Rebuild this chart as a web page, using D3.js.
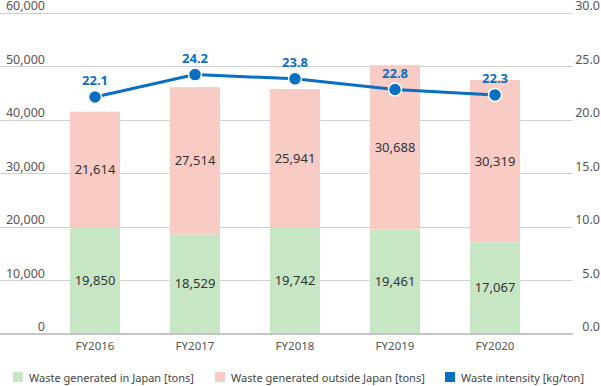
<!DOCTYPE html>
<html>
<head>
<meta charset="utf-8">
<script src="https://cdn.jsdelivr.net/npm/d3@7"></script>
<style>
  body { margin: 0; background: #fff; }
  text { font-family: "Noto Sans", "Open Sans", sans-serif; }
</style>
</head>
<body>
<div id="chart"></div>
<script>
// chart data
var years = ["FY2016", "FY2017", "FY2018", "FY2019", "FY2020"];
var japanWaste = [19850, 18529, 19742, 19461, 17067];
var outsideWaste = [21614, 27514, 25941, 30688, 30319];
var intensity = [22.1, 24.2, 23.8, 22.8, 22.3];
var leftTicks = [0, 10000, 20000, 30000, 40000, 50000, 60000];
var rightTicks = [0, 5, 10, 15, 20, 25, 30];
var legendLabels = ["Waste generated in Japan [tons]", "Waste generated outside Japan [tons]", "Waste intensity [kg/ton]"];

var svgWidth = 601;
var svgHeight = 386;

var green = "#c7e6c4";
var pink = "#f8cbc5";
var blue = "#0a6fc2";

var svg = d3.select("#chart")
  .append("svg")
  .attr("width", svgWidth)
  .attr("height", svgHeight);

// scales
var xScale = d3.scaleBand()
  .domain(years)
  .range([45, 545])
  .paddingInner(0.5)
  .paddingOuter(0.25);

var yLeft = d3.scaleLinear().domain([0, 60000]).range([333.5, 12.5]);
var yRight = d3.scaleLinear().domain([0, 30]).range([333.5, 12.5]);

// gridlines
svg.append("g")
  .selectAll("line")
  .data(leftTicks)
  .enter()
  .append("line")
  .attr("x1", 0)
  .attr("x2", 573)
  .attr("y1", d => Math.round(yLeft(d)) + 0.5)
  .attr("y2", d => Math.round(yLeft(d)) + 0.5)
  .attr("stroke", "#d0d0d0")
  .attr("stroke-width", 1);

// left tick labels
var fmt = d3.format(",");
svg.append("g")
  .selectAll("text")
  .data(leftTicks)
  .enter()
  .append("text")
  .attr("x", 45)
  .attr("y", d => yLeft(d) - 2.5)
  .attr("text-anchor", "end")
  .attr("font-size", 12.5)
  .attr("fill", "#555")
  .text(d => fmt(d));

// right tick labels
svg.append("g")
  .selectAll("text")
  .data(rightTicks)
  .enter()
  .append("text")
  .attr("x", 600)
  .attr("y", d => yRight(d) - 2.5)
  .attr("text-anchor", "end")
  .attr("font-size", 12.5)
  .attr("fill", "#555")
  .text(d => d3.format(".1f")(d));

// stacked bars
var rows = years.map((y, i) => ({ year: y, japan: japanWaste[i], outside: outsideWaste[i], intensity: intensity[i] }));

var bars = svg.append("g");
bars.selectAll(".japan")
  .data(rows)
  .enter()
  .append("rect")
  .attr("x", d => xScale(d.year))
  .attr("width", xScale.bandwidth())
  .attr("y", d => yLeft(d.japan))
  .attr("height", d => yLeft(0) - yLeft(d.japan))
  .attr("fill", green);

bars.selectAll(".outside")
  .data(rows)
  .enter()
  .append("rect")
  .attr("x", d => xScale(d.year))
  .attr("width", xScale.bandwidth())
  .attr("y", d => yLeft(d.japan + d.outside))
  .attr("height", d => yLeft(d.japan) - yLeft(d.japan + d.outside))
  .attr("fill", pink);

// baseline
svg.append("line")
  .attr("x1", 0)
  .attr("x2", 573)
  .attr("y1", yLeft(0) + 0.5)
  .attr("y2", yLeft(0) + 0.5)
  .attr("stroke", "#c4c4c4")
  .attr("stroke-width", 2);

// value labels in bars
var labels = svg.append("g")
  .attr("font-size", 13)
  .attr("fill", "#333")
  .attr("text-anchor", "middle");

labels.selectAll(".jl")
  .data(rows)
  .enter()
  .append("text")
  .attr("x", d => xScale(d.year) + xScale.bandwidth() / 2)
  .attr("y", d => (yLeft(0) + yLeft(d.japan)) / 2)
  .attr("dy", "0.35em")
  .text(d => fmt(d.japan));

labels.selectAll(".ol")
  .data(rows)
  .enter()
  .append("text")
  .attr("x", d => xScale(d.year) + xScale.bandwidth() / 2)
  .attr("y", d => (yLeft(d.japan) + yLeft(d.japan + d.outside)) / 2)
  .attr("dy", "0.35em")
  .text(d => fmt(d.outside));

// x axis labels
svg.append("g")
  .selectAll("text")
  .data(years)
  .enter()
  .append("text")
  .attr("x", d => xScale(d) + xScale.bandwidth() / 2)
  .attr("y", 350)
  .attr("text-anchor", "middle")
  .attr("font-size", 11.5)
  .attr("fill", "#555")
  .text(d => d);

// intensity line
var line = d3.line()
  .x(d => xScale(d.year) + xScale.bandwidth() / 2)
  .y(d => yRight(d.intensity));

svg.append("path")
  .datum(rows)
  .attr("d", line)
  .attr("fill", "none")
  .attr("stroke", blue)
  .attr("stroke-width", 3);

svg.append("g")
  .selectAll("circle")
  .data(rows)
  .enter()
  .append("circle")
  .attr("cx", d => xScale(d.year) + xScale.bandwidth() / 2)
  .attr("cy", d => yRight(d.intensity))
  .attr("r", 6.5)
  .attr("fill", blue)
  .attr("stroke", "#fff")
  .attr("stroke-width", 1.5);

svg.append("g")
  .selectAll("text")
  .data(rows)
  .enter()
  .append("text")
  .attr("x", d => xScale(d.year) + xScale.bandwidth() / 2)
  .attr("y", d => yRight(d.intensity) - 12)
  .attr("text-anchor", "middle")
  .attr("font-size", 13)
  .attr("font-weight", "bold")
  .attr("fill", blue)
  .text(d => d.intensity.toFixed(1));

// legend
var legendX = [13, 215, 445];
var legendColors = [green, pink, blue];
var legend = svg.append("g")
  .selectAll("g")
  .data(legendLabels)
  .enter()
  .append("g")
  .attr("transform", (d, i) => `translate(${legendX[i]}, 372)`);

legend.append("rect")
  .attr("width", 10)
  .attr("height", 10)
  .attr("fill", (d, i) => legendColors[i]);

legend.append("text")
  .attr("x", 16)
  .attr("y", 9.5)
  .attr("font-size", 11)
  .attr("fill", "#444")
  .text(d => d);
</script>
</body>
</html>
